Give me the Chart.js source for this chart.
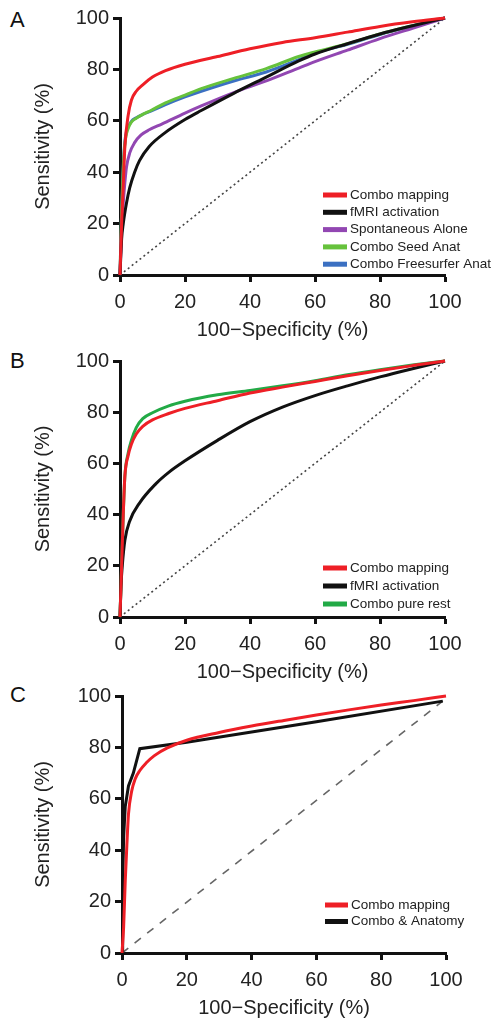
<!DOCTYPE html>
<html>
<head>
<meta charset="utf-8">
<script src="https://cdn.jsdelivr.net/npm/chart.js@4.4.1/dist/chart.umd.min.js"></script>
<style>
  body { margin: 0; background: #fff; width: 503px; height: 1029px; position: relative; overflow: hidden; font-family: "Liberation Sans", Arial, sans-serif; }
  canvas { position: absolute; left: 0; }
  .panel { position: absolute; left: 10px; font-size: 22px; line-height: 22px; color: #111; }
</style>
</head>
<body>
<div class="panel" style="top:9px">A</div>
<div class="panel" style="top:350px">B</div>
<div class="panel" style="top:684px">C</div>
<canvas id="rocA" width="503" height="342" style="top:0"></canvas>
<canvas id="rocB" width="503" height="344" style="top:340px"></canvas>
<canvas id="rocC" width="503" height="340" style="top:680px"></canvas>
<script>
const FONT = '"Liberation Sans", Arial, sans-serif';
const tickValues = [0, 20, 40, 60, 80, 100];
const xTitle = "100\u2212Specificity (%)";
const yTitle = "Sensitivity (%)";

// panel A
const aComboMapping = [[0,0],[0.5,20],[1,35],[1.5,50],[2.5,62],[3.5,68],[5,71.5],[7,74],[10,77],[14,79.5],[20,82],[30,85],[40,88],[50,90.5],[60,92.3],[70,94.5],[80,96.7],[90,98.5],[100,100]];
const aFmri = [[0,0],[0.5,14],[1,20],[2,28],[3,34],[4.5,40],[6,44.5],[9,50],[14,55.5],[20,60.5],[25,64],[35,70.7],[45,77],[55,83.3],[60,86],[70,90],[80,93.8],[90,97],[100,100]];
const aSpontaneous = [[0,0],[0.5,18],[1,28],[1.5,36],[2,42],[3,47.5],[4.5,51.5],[6.5,54.5],[9,56.5],[13,58.8],[20,63],[25,65.8],[35,71],[45,75.5],[55,80.5],[60,83],[70,87.5],[80,92],[90,96],[100,100]];
const aSeedAnat = [[0,0],[0.4,20],[0.8,35],[1.2,46],[1.7,53],[2.5,57],[3.5,59.5],[5,61],[7,62.5],[9.5,64],[14,67],[20,70],[25,72.5],[35,76.5],[45,80.3],[55,85],[60,86.8],[70,90],[80,93.8],[90,97],[100,100]];
const aFreesurferAnat = [[0,0],[0.4,20],[0.8,36],[1.2,47],[1.7,54],[2.5,57.5],[3.5,59.8],[5,61.2],[7,62.5],[9.5,63.8],[14,66.3],[20,69.3],[25,71.5],[35,75.5],[45,79],[55,83.8],[60,86.3],[70,89.8],[80,93.6],[90,96.9],[100,100]];

// panel B
const bComboMapping = [[0,0],[0.5,20],[1,40],[1.5,55],[2.5,63],[3.5,67.5],[5,71.5],[7,74.5],[10,77],[15,79.5],[20,81.5],[30,84.5],[40,87.5],[50,89.8],[60,92],[70,94.2],[80,96.3],[90,98.2],[100,100]];
const bFmri = [[0,0],[0.3,12],[0.7,20],[1.5,30],[3,37.5],[6,44.5],[11,52],[15,56.5],[20,61],[30,69],[40,76.3],[50,82],[60,86.5],[70,90.3],[80,93.8],[90,97],[100,100]];
const bPureRest = [[0,0],[0.5,20],[1,40],[1.5,55],[2.5,64],[3.5,69],[5,74],[7,77.5],[10,79.8],[15,82.5],[20,84.3],[30,86.8],[40,88.5],[50,90.3],[60,92.3],[70,94.6],[80,96.6],[90,98.4],[100,100]];

// panel C
const cComboMapping = [[0,0],[0.5,10],[1,28],[1.5,42],[2,54],[3,63],[4,67.5],[5.5,71],[7.5,74],[10,76.8],[14,79.8],[20,82.8],[30,85.8],[40,88.3],[50,90.5],[60,92.6],[70,94.6],[80,96.5],[90,98.2],[100,100]];
const cComboAnatomy = [[0,0],[0.2,25],[0.5,45],[1,57],[2,65],[3.5,70],[5.5,79.5],[20,82],[60,90],[99,98]];

const chanceFull = [[0,0],[100,100]];
const chanceC = [[0,0],[99,98]];

const insideLegend = {
  id: "insideLegend",
  afterDraw(chart, args, opts) {
    const ctx = chart.ctx;
    ctx.save();
    ctx.font = opts.fontSize + "px " + FONT;
    ctx.textBaseline = "middle";
    chart.data.datasets.filter(d => d.legend !== false).forEach((d, i) => {
      const y = opts.y + i * opts.step;
      ctx.fillStyle = d.borderColor;
      ctx.fillRect(opts.x, y - 2.5, opts.swatch, 5);
      ctx.fillStyle = "#222";
      ctx.fillText(d.label, opts.x + opts.swatch + 3, y);
    });
    ctx.restore();
  }
};

function axis(title, isY, fitSize) {
  return {
    type: "linear",
    min: 0,
    max: 100,
    afterBuildTicks: s => { s.ticks = tickValues.map(v => ({ value: v })); },
    afterFit: s => { if (isY) s.width = fitSize; else s.height = fitSize; },
    ticks: { font: { family: FONT, size: 20 }, color: "#222", padding: isY ? 4 : 8, maxRotation: 0 },
    grid: { drawOnChartArea: false, drawTicks: true, tickLength: 7, tickWidth: 3, tickColor: "#111" },
    border: { display: true, width: 3, color: "#111" },
    title: { display: true, text: title, font: { family: FONT, size: 20 }, color: "#222", padding: isY ? { top: 31 } : 0 }
  };
}

function renderRoc({ id, padTop, left, right, series, chance, chanceDash, chanceColor, legend }) {
  const ctx = document.getElementById(id).getContext("2d");
  const datasets = series.map(s => ({
    label: s.label,
    data: s.points.map(([x, y]) => ({ x, y })),
    borderColor: s.color,
    borderWidth: 3,
    pointRadius: 0,
    showLine: true,
    fill: false,
    cubicInterpolationMode: s.straight ? "default" : "monotone",
    tension: 0,
    clip: false
  }));
  datasets.push({
    label: "chance",
    legend: false,
    data: chance.map(([x, y]) => ({ x, y })),
    borderColor: chanceColor,
    borderWidth: 1.6,
    borderDash: chanceDash,
    pointRadius: 0,
    showLine: true,
    clip: false
  });
  return new Chart(ctx, {
    type: "scatter",
    data: { datasets: datasets },
    plugins: [insideLegend],
    options: {
      responsive: false,
      animation: false,
      devicePixelRatio: 1,
      layout: { padding: { top: padTop, right: 503 - right, left: 0, bottom: 0 } },
      plugins: {
        legend: { display: false },
        tooltip: { enabled: false },
        insideLegend: legend
      },
      scales: {
        x: axis(xTitle, false, 67),
        y: axis(yTitle, true, left)
      }
    }
  });
}

renderRoc({
  id: "rocA", padTop: 18, left: 120, right: 445,
  series: [
    { label: "Combo mapping", points: aComboMapping, color: "#ee1f26" },
    { label: "fMRI activation", points: aFmri, color: "#111111" },
    { label: "Spontaneous Alone", points: aSpontaneous, color: "#9247b2" },
    { label: "Combo Seed Anat", points: aSeedAnat, color: "#66c23c" },
    { label: "Combo Freesurfer Anat", points: aFreesurferAnat, color: "#3b70c2" }
  ],
  chance: chanceFull, chanceDash: [2, 3], chanceColor: "#444",
  legend: { x: 323, y: 195, step: 17.3, swatch: 24, fontSize: 13.5 }
});

renderRoc({
  id: "rocB", padTop: 21, left: 120, right: 445,
  series: [
    { label: "Combo mapping", points: bComboMapping, color: "#ee1f26" },
    { label: "fMRI activation", points: bFmri, color: "#111111" },
    { label: "Combo pure rest", points: bPureRest, color: "#22aa46" }
  ],
  chance: chanceFull, chanceDash: [2, 3], chanceColor: "#444",
  legend: { x: 323, y: 228, step: 18, swatch: 24, fontSize: 13.5 }
});

renderRoc({
  id: "rocC", padTop: 16, left: 122, right: 446,
  series: [
    { label: "Combo mapping", points: cComboMapping, color: "#ee1f26" },
    { label: "Combo & Anatomy", points: cComboAnatomy, color: "#111111", straight: true }
  ],
  chance: chanceC, chanceDash: [8, 8], chanceColor: "#666",
  legend: { x: 325, y: 225, step: 16.5, swatch: 23, fontSize: 13.5 }
});
</script>
</body>
</html>
